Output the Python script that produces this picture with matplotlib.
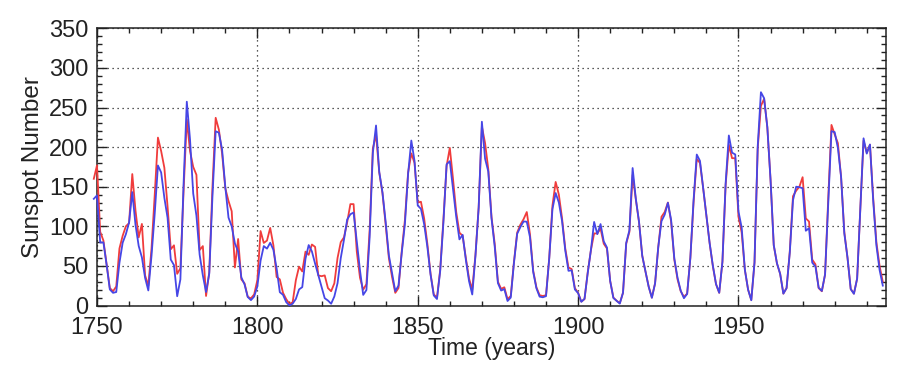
import numpy as np
import matplotlib
matplotlib.use("Agg")
import matplotlib.pyplot as plt
from matplotlib.ticker import MultipleLocator

# ---- data (yearly values) ----
first_year = 1749
blue_values = [
    134.7,
    139.0, 79.5, 79.7, 51.2, 20.3, 16.0, 17.0, 54.0, 79.3, 90.0,
    104.8, 143.2, 102.0, 75.2, 60.7, 34.8, 19.0, 63.0, 116.3, 176.8,
    168.0, 136.0, 110.8, 58.0, 51.0, 11.7, 33.0, 154.2, 257.3, 209.8,
    141.3, 113.5, 64.2, 38.0, 17.0, 40.2, 138.2, 220.0, 218.2, 196.8,
    149.8, 111.0, 100.0, 78.2, 68.3, 35.5, 26.7, 10.7, 6.8, 11.3,
    24.2, 56.7, 75.0, 71.8, 79.2, 70.3, 46.8, 16.8, 13.5, 4.2,
    0.0, 2.3, 8.3, 20.3, 23.2, 59.0, 76.3, 68.3, 52.9, 38.5,
    24.2, 9.2, 6.3, 2.2, 11.4, 28.2, 59.9, 83.0, 108.5, 115.2,
    117.4, 80.8, 44.3, 13.4, 19.5, 85.8, 192.7, 227.3, 168.7, 143.0,
    105.5, 63.3, 40.3, 18.1, 25.1, 65.8, 102.7, 166.3, 208.3, 182.5,
    126.3, 122.0, 102.7, 74.1, 39.0, 12.7, 8.2, 43.4, 104.4, 178.3,
    182.2, 146.6, 112.1, 83.5, 89.2, 57.8, 30.7, 13.9, 62.8, 123.6,
    232.0, 185.3, 169.2, 110.1, 74.5, 28.3, 18.9, 20.7, 5.7, 10.0,
    53.7, 90.5, 99.0, 106.1, 105.8, 86.3, 42.4, 21.8, 11.2, 10.4,
    11.8, 59.5, 121.7, 142.0, 130.0, 106.6, 69.4, 43.8, 44.4, 20.2,
    15.7, 4.6, 8.5, 40.8, 70.1, 105.5, 90.1, 102.8, 80.9, 73.2,
    30.9, 9.5, 6.0, 2.4, 16.1, 79.0, 95.0, 173.6, 134.6, 105.7,
    62.7, 43.5, 23.7, 9.7, 27.9, 74.0, 106.5, 114.7, 129.7, 108.2,
    59.4, 35.1, 18.6, 9.2, 14.6, 60.2, 132.8, 190.6, 182.6, 148.0,
    113.0, 79.2, 50.8, 27.1, 16.1, 55.3, 154.3, 214.7, 193.0, 190.7,
    118.9, 98.3, 45.0, 20.1, 6.6, 54.2, 200.7, 269.3, 261.7, 225.1,
    159.0, 76.4, 53.4, 39.9, 15.0, 22.0, 66.8, 132.9, 150.0, 149.4,
    148.0, 94.4, 97.6, 54.1, 49.2, 22.5, 18.4, 39.3, 131.0, 220.1,
    218.9, 198.9, 162.4, 91.0, 60.5, 20.6, 14.8, 33.9, 123.0, 211.1,
    191.8, 203.3, 133.0, 76.1, 44.9, 25.1,
]
red_values = [
    160,
    177, 93, 82, 52, 22, 18, 24, 72, 88, 100,
    104, 166, 120, 86, 103, 38, 25, 72, 140, 212,
    195, 174, 125, 71, 76, 40, 47, 145, 235, 195,
    175, 165, 70, 75, 12, 42, 150, 237, 222, 192,
    148, 132, 119, 48, 84, 33, 28, 11, 9, 14,
    32, 94, 79, 82, 98, 76, 36, 33, 16, 8,
    2, 4, 32, 49, 43, 68, 64, 77, 74, 38,
    37, 38, 22, 18, 28, 60, 80, 86, 105, 128,
    128, 68, 35, 20, 27, 95, 198, 216, 168, 142,
    102, 60, 36, 16, 22, 68, 108, 168, 192, 180,
    130, 131, 110, 78, 40, 14, 10, 45, 108, 176,
    199, 160, 118, 92, 88, 60, 34, 20, 64, 124,
    226, 205, 172, 112, 78, 30, 21, 23, 8, 12,
    55, 92, 102, 109, 118, 90, 44, 23, 13, 12,
    13, 60, 126, 156, 140, 110, 72, 48, 46, 22,
    16, 5, 8, 42, 70, 91, 91, 97, 78, 72,
    31, 10, 6, 3, 16, 78, 93, 165, 134, 105,
    63, 43, 24, 10, 28, 74, 112, 118, 130, 106,
    58, 33, 18, 11, 15, 60, 130, 185, 180, 148,
    113, 79, 50, 27, 16, 55, 152, 203, 186, 186,
    112, 92, 45, 20, 7, 54, 198, 252, 261, 225,
    159, 76, 53, 40, 15, 22, 68, 138, 145, 150,
    162, 110, 106, 58, 52, 22, 18, 39, 136, 228,
    216, 205, 162, 93, 60, 21, 15, 34, 123, 208,
    193, 203, 136, 80, 50, 30,
]
years = np.arange(first_year, first_year + len(blue_values))
assert len(red_values) == len(blue_values)

x_tick_labels = ["1750", "1800", "1850", "1900", "1950"]
y_tick_labels = ["0", "50", "100", "150", "200", "250", "300", "350"]

plt.rcParams["font.family"] = ["Liberation Sans", "DejaVu Sans"]

fig = plt.figure(figsize=(9.03, 3.71), dpi=100)
ax = fig.add_axes([97 / 903, 1 - 305.5 / 371, (886 - 97) / 903, (305.5 - 28.3) / 371])

ax.plot(years, red_values, color="#f03c3c", lw=1.3, zorder=3, clip_on=False)
ax.plot(years, blue_values, color="#4646e6", lw=1.3, zorder=4, clip_on=False)

ax.set_xlim(1750, 1996)
ax.set_ylim(0, 350)
ax.set_xticks([int(t) for t in x_tick_labels])
ax.set_xticklabels(x_tick_labels)
ax.set_yticks([int(t) for t in y_tick_labels])
ax.set_yticklabels(y_tick_labels)
ax.xaxis.set_minor_locator(MultipleLocator(10))
ax.yaxis.set_minor_locator(MultipleLocator(10))

ax.grid(True, which="major", color="#222222", linestyle=(0, (1, 3)), linewidth=0.9, zorder=1)
ax.tick_params(which="both", direction="in", top=True, right=True, colors="#222222",
               labelsize=17, width=1.0)
ax.tick_params(which="major", length=7)
ax.tick_params(which="minor", length=3.5)
ax.tick_params(axis="x", pad=8.5)
ax.tick_params(axis="y", pad=6)
for s in ax.spines.values():
    s.set_color("#222222")
    s.set_linewidth(1.1)

ax.set_xlabel("Time (years)", fontsize=16.5, labelpad=-1.5, color="#222222")
ax.set_ylabel("Sunspot Number", fontsize=17.5, labelpad=4, color="#222222")

fig.savefig("out.png", dpi=100)
